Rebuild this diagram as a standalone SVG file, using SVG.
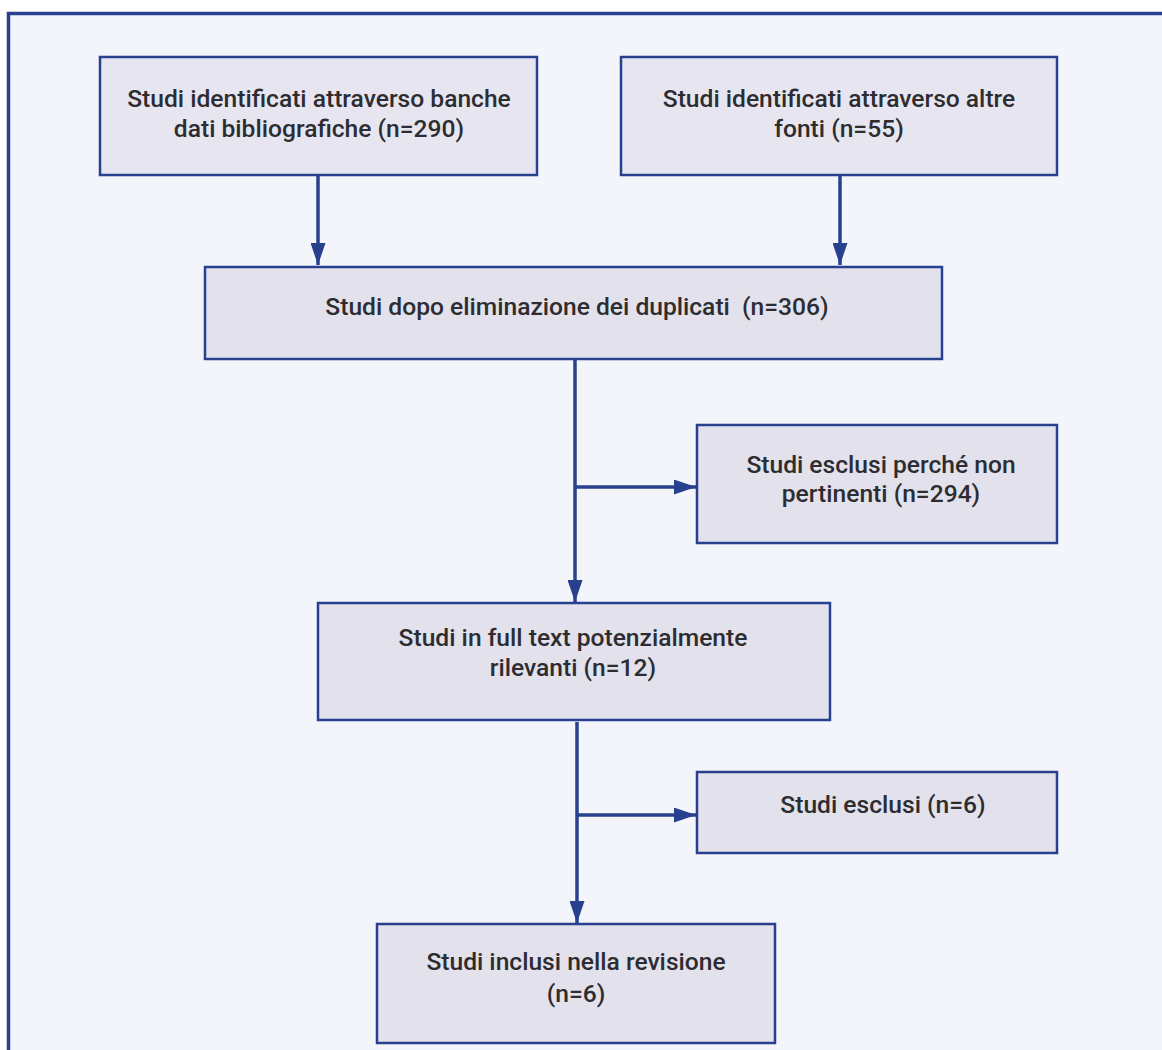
<svg xmlns="http://www.w3.org/2000/svg" width="1162" height="1050" viewBox="0 0 1162 1050">
<style>
.box{fill:#e2e1ec;stroke:#27418f;stroke-width:2.5}
.t{font-family:Roboto,"Liberation Sans",sans-serif;font-weight:500;font-size:24.6px;fill:#2d2d31;text-anchor:middle}
.c{stroke:#27418f;stroke-width:3.5;fill:none}
</style>
<defs>
<marker id="ah" viewBox="0 0 22 15" refX="22" refY="7.5" markerWidth="22" markerHeight="15" markerUnits="userSpaceOnUse" orient="auto">
<path d="M0,0 L22,7.5 L0,15 z" fill="#27418f"/>
</marker>
</defs>
<rect x="0" y="0" width="1162" height="1050" fill="#ffffff"/>
<rect x="8.5" y="13.5" width="1200" height="1100" fill="#f4f5fa" stroke="#27418f" stroke-width="3.5"/>
<g id="connectors">
<line class="c" x1="318" y1="175" x2="318" y2="265" marker-end="url(#ah)"/>
<line class="c" x1="840" y1="175" x2="840" y2="265" marker-end="url(#ah)"/>
<line class="c" x1="575" y1="360" x2="575" y2="602" marker-end="url(#ah)"/>
<line class="c" x1="575" y1="487" x2="696" y2="487" marker-end="url(#ah)"/>
<line class="c" x1="577" y1="722" x2="577" y2="923" marker-end="url(#ah)"/>
<line class="c" x1="577" y1="815" x2="696" y2="815" marker-end="url(#ah)"/>
</g>
<g id="n1">
<rect class="box" x="100" y="57" width="437" height="118" style="fill:#e7e6f0"/>
<text class="t" x="319" y="107">Studi identificati attraverso banche</text>
<text class="t" x="319" y="137">dati bibliografiche (n=290)</text>
</g>
<g id="n2">
<rect class="box" x="621" y="57" width="436" height="118" style="fill:#e7e6f0"/>
<text class="t" x="839" y="107">Studi identificati attraverso altre</text>
<text class="t" x="839" y="137">fonti (n=55)</text>
</g>
<g id="n3">
<rect class="box" x="205" y="267" width="737" height="92"/>
<text class="t" x="577" y="315" xml:space="preserve">Studi dopo eliminazione dei duplicati  (n=306)</text>
</g>
<g id="n4">
<rect class="box" x="697" y="425" width="360" height="118"/>
<text class="t" x="881" y="473">Studi esclusi perché non</text>
<text class="t" x="881" y="502">pertinenti (n=294)</text>
</g>
<g id="n5">
<rect class="box" x="318" y="603" width="512" height="117"/>
<text class="t" x="573" y="646">Studi in full text potenzialmente</text>
<text class="t" x="573" y="676">rilevanti (n=12)</text>
</g>
<g id="n6">
<rect class="box" x="697" y="772" width="360" height="81"/>
<text class="t" x="883" y="813">Studi esclusi (n=6)</text>
</g>
<g id="n7">
<rect class="box" x="377" y="924" width="398" height="119"/>
<text class="t" x="576" y="970">Studi inclusi nella revisione</text>
<text class="t" x="576" y="1002">(n=6)</text>
</g>
</svg>
